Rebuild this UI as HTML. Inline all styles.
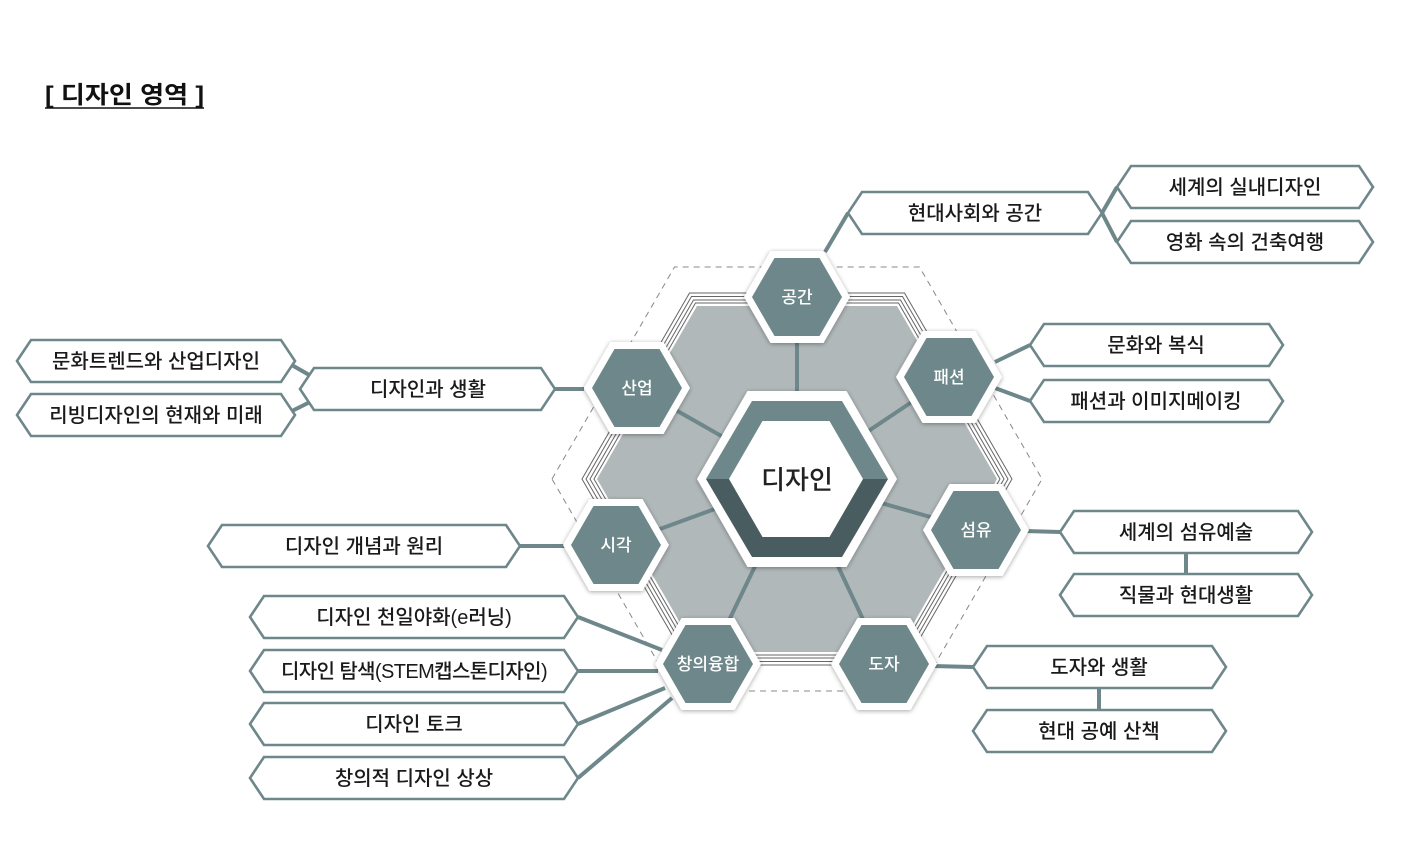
<!DOCTYPE html>
<html><head><meta charset="utf-8"><style>
html,body{margin:0;padding:0;background:#fff;}
svg{display:block;}
text{font-family:"Liberation Sans","Noto Sans CJK KR",sans-serif;}
.lb{font-size:20px;fill:#1a1a1a;text-anchor:middle;font-weight:500;}
.hx{font-size:17px;fill:#fff;text-anchor:middle;font-weight:500;}
.box{fill:#fff;stroke:#6e878a;stroke-width:2.6;}
.ln{stroke:#6e878a;stroke-width:4;fill:none;}
</style></head><body>
<svg width="1404" height="849" viewBox="0 0 1404 849" xmlns="http://www.w3.org/2000/svg">
<defs>
<filter id="sh" x="-30%" y="-30%" width="160%" height="160%"><feDropShadow dx="0" dy="1" stdDeviation="2.5" flood-color="#000" flood-opacity="0.35"/></filter>
<g id="sm">
<polygon points="-53,0 -26.5,-46 26.5,-46 53,0 26.5,46 -26.5,46" fill="#fff" filter="url(#sh)"/>
<polygon points="-45,0 -22.5,-39 22.5,-39 45,0 22.5,39 -22.5,39" fill="#6e878a"/>
</g>
</defs>

<text x="45" y="103" textLength="159" lengthAdjust="spacingAndGlyphs" style="font-size:24px;font-weight:bold;fill:#111">[ 디자인 영역 ]</text>
<line x1="45" y1="108" x2="204" y2="108" stroke="#111" stroke-width="1.5"/>

<polygon points="552,479 674.5,267 919.5,267 1042,479 919.5,691 674.5,691" fill="none" stroke="#888" stroke-width="1" stroke-dasharray="6,5"/>
<g fill="none" stroke="#666" stroke-width="1">
<polygon points="582,479 689.5,293 904.5,293 1012,479 904.5,665 689.5,665"/>
<polygon points="586,479 691.5,296.5 902.5,296.5 1008,479 902.5,661.5 691.5,661.5"/>
<polygon points="590,479 693.5,300 900.5,300 1004,479 900.5,658 693.5,658"/>
<polygon points="594,479 695.5,303 898.5,303 1000,479 898.5,655 695.5,655"/>
</g>
<polygon points="597,479 697,306 897,306 997,479 897,652 697,652" fill="#b1b8b9"/>

<g class="ln">
<line x1="797" y1="479" x2="797" y2="297"/>
<line x1="797" y1="479" x2="637" y2="388"/>
<line x1="797" y1="479" x2="949" y2="377"/>
<line x1="797" y1="479" x2="616" y2="545"/>
<line x1="797" y1="479" x2="976" y2="530"/>
<line x1="797" y1="479" x2="708" y2="664"/>
<line x1="797" y1="479" x2="884" y2="664"/>
<line x1="825" y1="252" x2="848" y2="213"/>
<line x1="1102" y1="213" x2="1117" y2="187"/>
<line x1="1102" y1="213" x2="1117" y2="242"/>
<line x1="995" y1="362" x2="1030" y2="345"/>
<line x1="995" y1="388" x2="1030" y2="401"/>
<line x1="1025" y1="531" x2="1060" y2="532"/>
<line x1="1186" y1="553" x2="1186" y2="574"/>
<line x1="932" y1="666" x2="973" y2="667"/>
<line x1="1099" y1="688" x2="1099" y2="710"/>
<line x1="584" y1="389" x2="555" y2="389"/>
<line x1="318" y1="380" x2="290" y2="364"/>
<line x1="318" y1="398" x2="290" y2="412"/>
<line x1="566" y1="546" x2="520" y2="546"/>
<line x1="578" y1="617" x2="662" y2="650"/>
<line x1="578" y1="671" x2="658" y2="671"/>
<line x1="578" y1="724" x2="665" y2="688"/>
<line x1="578" y1="778" x2="672" y2="698"/>
</g>

<polygon points="697,479 747.5,391 846.5,391 897,479 846.5,567 747.5,567" fill="#fff" filter="url(#sh)"/>
<polygon points="706,479 752,401 842,401 888,479" fill="#6e878a"/>
<polygon points="706,479 888,479 842,557 752,557" fill="#495c60"/>
<polygon points="729,479 762.5,421 829.5,421 863,479 829.5,537 762.5,537" fill="#fff"/>
<text x="797" y="489" style="font-size:26px;fill:#222;text-anchor:middle;font-weight:500">디자인</text>

<use href="#sm" x="797" y="297"/><text class="hx" x="797" y="303">공간</text>
<use href="#sm" x="637" y="388"/><text class="hx" x="637" y="394">산업</text>
<use href="#sm" x="949" y="377"/><text class="hx" x="949" y="383">패션</text>
<use href="#sm" x="616" y="545"/><text class="hx" x="616" y="551">시각</text>
<use href="#sm" x="976" y="530"/><text class="hx" x="976" y="536">섬유</text>
<use href="#sm" x="708" y="664"/><text class="hx" x="708" y="670">창의융합</text>
<use href="#sm" x="884" y="664"/><text class="hx" x="884" y="670">도자</text>

<g>
<polygon class="box" points="848,213 862,192 1088,192 1102,213 1088,234 862,234"/><text class="lb" x="975" y="220">현대사회와 공간</text>
<polygon class="box" points="1117,187 1131,166 1359,166 1373,187 1359,208 1131,208"/><text class="lb" x="1245" y="194">세계의 실내디자인</text>
<polygon class="box" points="1117,242 1131,221 1359,221 1373,242 1359,263 1131,263"/><text class="lb" x="1245" y="249">영화 속의 건축여행</text>
<polygon class="box" points="1030,345 1044,324 1269,324 1283,345 1269,366 1044,366"/><text class="lb" x="1156" y="352">문화와 복식</text>
<polygon class="box" points="1030,401 1044,380 1269,380 1283,401 1269,422 1044,422"/><text class="lb" x="1156" y="408">패션과 이미지메이킹</text>
<polygon class="box" points="1060,532 1074,511 1298,511 1312,532 1298,553 1074,553"/><text class="lb" x="1186" y="539">세계의 섬유예술</text>
<polygon class="box" points="1060,595 1074,574 1298,574 1312,595 1298,616 1074,616"/><text class="lb" x="1186" y="602">직물과 현대생활</text>
<polygon class="box" points="973,667 987,646 1212,646 1226,667 1212,688 987,688"/><text class="lb" x="1099" y="674">도자와 생활</text>
<polygon class="box" points="973,731 987,710 1212,710 1226,731 1212,752 987,752"/><text class="lb" x="1099" y="738">현대 공예 산책</text>
<polygon class="box" points="300,389 314,368 541,368 555,389 541,410 314,410"/><text class="lb" x="428" y="396">디자인과 생활</text>
<polygon class="box" points="17,361 31,340 281,340 295,361 281,382 31,382"/><text class="lb" x="156" y="368">문화트렌드와 산업디자인</text>
<polygon class="box" points="17,415 31,394 281,394 295,415 281,436 31,436"/><text class="lb" x="156" y="422">리빙디자인의 현재와 미래</text>
<polygon class="box" points="208,546 222,525 506,525 520,546 506,567 222,567"/><text class="lb" x="364" y="553">디자인 개념과 원리</text>
<polygon class="box" points="250,617 264,596 564,596 578,617 564,638 264,638"/><text class="lb" x="414" y="624">디자인 천일야화(e러닝)</text>
<polygon class="box" points="250,671 264,650 564,650 578,671 564,692 264,692"/><text class="lb" x="414" y="678" style="letter-spacing:-0.6px">디자인 탐색(STEM캡스톤디자인)</text>
<polygon class="box" points="250,724 264,703 564,703 578,724 564,745 264,745"/><text class="lb" x="414" y="731">디자인 토크</text>
<polygon class="box" points="250,778 264,757 564,757 578,778 564,799 264,799"/><text class="lb" x="414" y="785">창의적 디자인 상상</text>
</g>
</svg>
</body></html>
